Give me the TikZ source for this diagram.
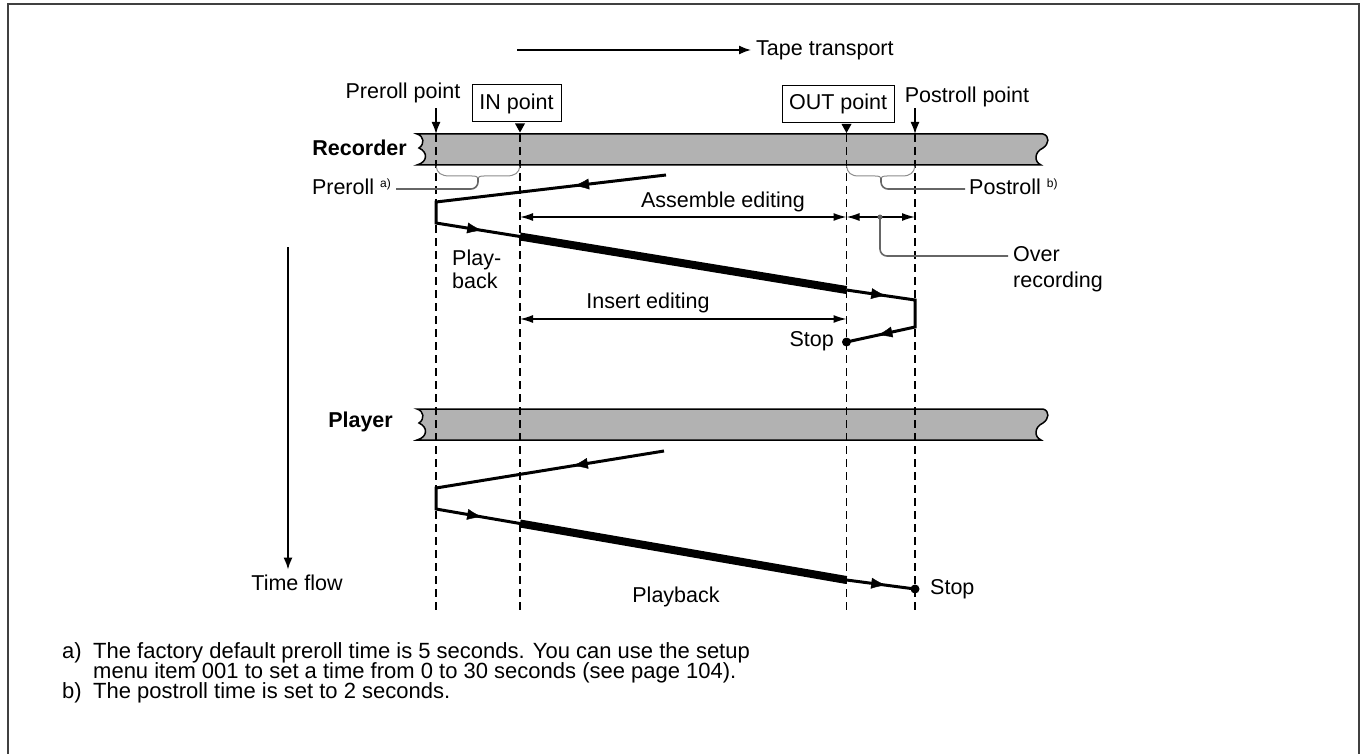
\documentclass[tikz,border=0pt]{standalone}
\usepackage{fontspec}
\setmainfont{Liberation Sans}
\usetikzlibrary{%
  arrows.meta,
  positioning,
  calc,
  decorations.markings}
\newcommand{\supnote}[1]{\raisebox{7pt}{\fontsize{12}{12}\selectfont #1}}
\tikzset{
  %% Frame round the figure
  frame/.style={line width=2pt, draw=black!75},
  %% Tape strips
  tapestrip/.style={draw=black, line width=1.5pt, fill=black!30},
  %% Cue lines (preroll, IN, OUT, postroll)
  cueline/.style={line width=1.8pt, dash pattern=on 8pt off 5pt},
  %% Head travel
  runpath/.style={line width=3pt, line join=miter},
  editpath/.style={line width=8pt},
  midarrow/.style={postaction={decorate},
    decoration={markings,
      mark=at position #1 with {\arrow{Latex[length=15pt,width=11pt]}}}},
  %% Arrows
  dimline/.style={line width=1.4pt,
    {Latex[length=13pt,width=8pt]}-{Latex[length=13pt,width=8pt]}},
  pointer/.style={line width=1.6pt, -{Latex[length=12pt,width=9pt]}},
  %% Braces and leaders
  brace/.style={draw=black!45, line width=1pt},
  leader/.style={draw=black!60, line width=1.6pt, rounded corners=7pt},
  %% Texts
  txt/.style={font=\fontsize{21.5}{23}\selectfont, inner sep=0pt,
    text height=16pt, text depth=4.5pt},
  boldtxt/.style={txt, font=\fontsize{21.5}{23}\selectfont\bfseries},
  notetxt/.style={font=\fontsize{22}{20}\selectfont, inner sep=0pt,
    text height=16pt, text depth=4.5pt},
  cuebox/.style={draw, line width=1pt, font=\fontsize{21.5}{23}\selectfont,
    minimum width=89pt, minimum height=37pt, inner sep=0pt},
  stopdot/.style={circle, fill=black, inner sep=0pt, minimum size=9pt},
  greydot/.style={circle, fill=black!60, inner sep=0pt, minimum size=5pt},
}

\begin{document}
\begin{tikzpicture}[x=1pt, y=-1pt]

  \useasboundingbox (0,0) rectangle (1364,754);
  \draw[frame] (8,754) -- (8,4) -- (1359,4) -- (1359,754);

  %% Tape transport
  \node[txt, anchor=west] (transport) at (756,50) {Tape transport};
  \coordinate (ttstart) at (517,50);
  \draw[pointer, shorten >=5pt] (ttstart) -- (transport.west);

  %% Tapes
  \foreach \ty in {134,409} {
    \draw[tapestrip] (417,\ty) -- (1043,\ty)
      .. controls (1050,\ty+2) and (1049,\ty+10) .. (1043,\ty+14)
      .. controls (1034,\ty+18) and (1034,\ty+28) .. (1041,\ty+31)
      -- (417,\ty+31)
      .. controls (428,\ty+28) and (428,\ty+18) .. (419,\ty+14)
      .. controls (425,\ty+10) and (424,\ty+2) .. (417,\ty) -- cycle;
  }
  \node[boldtxt, anchor=east] (rec) at (407,150) {Recorder};
  \node[boldtxt, anchor=east] (ply) at (393,422) {Player};

  %% Cue lines
  \foreach \cx/\cn in {436/pre, 520/in, 846.5/out, 915/post} {
    \coordinate (top\cn) at (\cx,134);
    \coordinate (bot\cn) at (\cx,613);
    \draw[cueline] (top\cn) -- (bot\cn);
  }

  %% Points above the recorder tape
  \node[txt] (prept) at (403,93) {Preroll point};
  \draw[pointer] ($(prept.south -| toppre)+(0,5)$) -- (toppre);

  \node[cuebox] (inbox) at (516.5,103.5) {IN point};
  \fill ($(inbox.south -| topin)+(-5,1)$) -- ++(10,0) -- ++(-5,9) -- cycle;

  \node[cuebox, minimum width=112pt] (outbox) at (838,104) {OUT point};
  \fill ($(outbox.south -| topout)+(-5,1)$) -- ++(10,0) -- ++(-5,9) -- cycle;

  \node[txt] (postpt) at (967,97) {Postroll point};
  \draw[pointer] ($(postpt.south -| toppost)+(0,1)$) -- (toppost);

  %% Preroll / postroll braces
  \coordinate (pbL) at (436,166);
  \coordinate (pbR) at (520,166);
  \coordinate (pbtip) at (478,178);
  \draw[brace] (pbL) .. controls (437,173) and (441,176) .. (450,176)
    -- (472,176) .. controls (476,176) and (478,177) .. (pbtip);
  \draw[brace] (pbR) .. controls (519,173) and (515,176) .. (506,176)
    -- (484,176) .. controls (480,176) and (478,177) .. (pbtip);
  \node[txt, anchor=east] (prelbl) at (391,189) {Preroll \supnote{a)}};
  \draw[leader, shorten >=5pt] (pbtip) |- (prelbl.east);

  \coordinate (obL) at (846.5,166);
  \coordinate (obR) at (915,166);
  \coordinate (obtip) at (881,178);
  \draw[brace] (obL) .. controls (847.5,173) and (851,176) .. (859,176)
    -- (875,176) .. controls (879,176) and (881,177) .. (obtip);
  \draw[brace] (obR) .. controls (914,173) and (910,176) .. (902,176)
    -- (887,176) .. controls (883,176) and (881,177) .. (obtip);
  \node[txt, anchor=west] (postlbl) at (969,189) {Postroll \supnote{b)}};
  \draw[leader, shorten >=4pt] (obtip) |- (postlbl.west);

  %% Recorder head travel
  \coordinate (r0) at (666,175);
  \coordinate (r1) at (436,202);
  \coordinate (r2) at (436,223);
  \coordinate (r3) at (520,236.5);
  \coordinate (r4) at (846.5,290);
  \coordinate (r5) at (915,300);
  \coordinate (r6) at (915,327);
  \node[stopdot] (rstop) at (846.5,342) {};
  \draw[runpath] (r0) -- (r1) -- (r2) -- (r3);
  \draw[editpath] (r3) -- (r4);
  \draw[runpath] (r4) -- (r5) -- (r6) -- (rstop.center);
  \path[midarrow=0.4] (r0) -- (r1);
  \path[midarrow=0.55] (r2) -- (r3);
  \path[midarrow=0.58] (r4) -- (r5);
  \path[midarrow=0.55] (r6) -- (rstop.center);
  \node[txt, anchor=east] (rstoptxt) at (834,341) {Stop};
  \node[txt, anchor=west] (pb1) at (452,260) {Play-};
  \node[txt, anchor=north west] (pb2) at ($(pb1.south west)+(0,2)$) {back};

  %% Editing ranges
  \coordinate (asmL) at (520,217);
  \coordinate (asmR) at (846.5,217);
  \coordinate (ovR) at (915,217);
  \draw[dimline] (asmL) -- (asmR);
  \draw[dimline] (asmR) -- (ovR);
  \node[txt] (asmtxt) at (723,202) {Assemble editing};

  \coordinate (insL) at (520,319);
  \coordinate (insR) at (846.5,319);
  \draw[dimline] (insL) -- (insR);
  \node[txt] (instxt) at (648,303) {Insert editing};

  \node[greydot] (ovdot) at (880,217) {};
  \node[txt, anchor=west] (ovtxt1) at (1013,256) {Over};
  \node[txt, anchor=north west] (ovtxt2) at ($(ovtxt1.south west)+(0,5)$) {recording};
  \draw[leader, shorten >=5pt] (ovdot.center) |- (ovtxt1.west);

  %% Player head travel
  \coordinate (p0) at (664,451);
  \coordinate (p1) at (436,488);
  \coordinate (p2) at (436,509);
  \coordinate (p3) at (520,523.5);
  \coordinate (p4) at (846.5,580);
  \node[stopdot] (pstop) at (915,589) {};
  \draw[runpath] (p0) -- (p1) -- (p2) -- (p3);
  \draw[editpath] (p3) -- (p4);
  \draw[runpath] (p4) -- (pstop.center);
  \path[midarrow=0.4] (p0) -- (p1);
  \path[midarrow=0.55] (p2) -- (p3);
  \path[midarrow=0.58] (p4) -- (pstop.center);
  \node[txt, anchor=west] (pstoptxt) at (930,589) {Stop};
  \node[txt] (playback) at (676,597) {Playback};

  %% Time flow
  \node[txt] (tflow) at (297,585) {Time flow};
  \coordinate (tfstart) at (288,247);
  \draw[pointer, shorten >=5pt] (tfstart) -- (tfstart |- tflow.north);

  %% Notes
  \node[notetxt, anchor=west] (na) at (62,653) {a)};
  \node[notetxt, anchor=west] (na1) at (93,653)
    {The factory default preroll time is 5 seconds. You can use the setup};
  \node[notetxt, anchor=west] (na2) at (93,673)
    {menu item 001 to set a time from 0 to 30 seconds (see page 104).};
  \node[notetxt, anchor=west] (nb) at (62,693) {b)};
  \node[notetxt, anchor=west] (nb1) at (93,693) {The postroll time is set to 2 seconds.};

\end{tikzpicture}
\end{document}
